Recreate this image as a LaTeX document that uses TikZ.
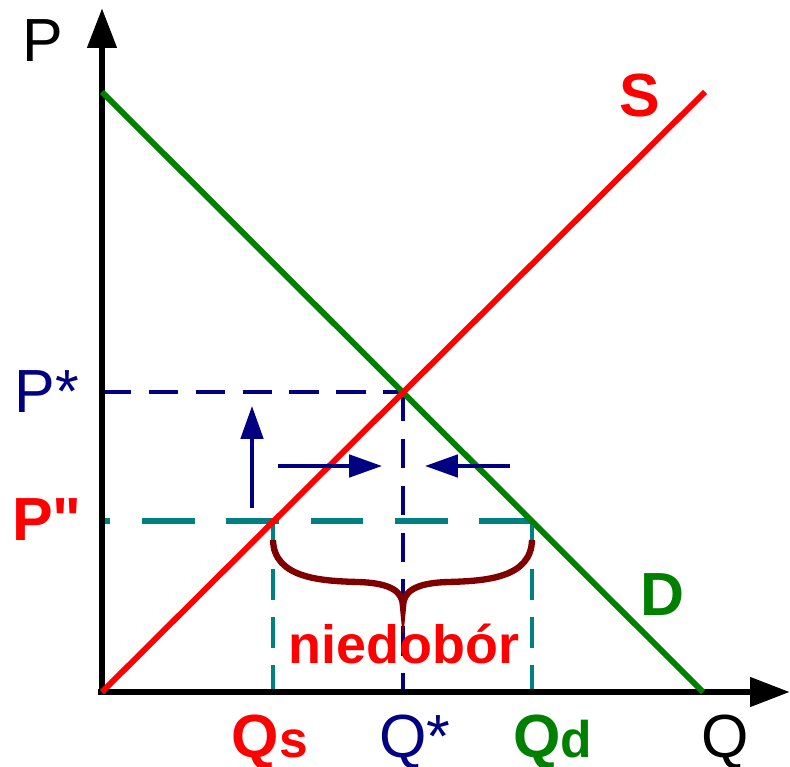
\documentclass[tikz,border=0pt]{standalone}
\usepackage{fontspec}
\setmainfont{Liberation Sans}
\usetikzlibrary{arrows.meta}

\definecolor{navy}{HTML}{000080}
\definecolor{tealc}{HTML}{008080}
\definecolor{darkgreen}{HTML}{008000}
\definecolor{maroon}{HTML}{800000}

\begin{document}
\begin{tikzpicture}[
  x=0.03cm, y=-0.03cm,
  axis/.style={draw, line width=5.8pt, -{Triangle[length=34pt, width=24pt]}},
  curve/.style={draw, line width=5pt},
  guide/.style={draw, navy, line width=3pt, dash pattern=on 25pt off 15pt},
  guidet/.style={draw, tealc, line width=2.6pt, dash pattern=on 26pt off 15pt},
  move/.style={draw, navy, line width=3.2pt, -{Triangle[length=28pt, width=19pt]}},
  lab/.style={anchor=base, inner sep=0pt, font=\fontsize{52}{60}\selectfont},
  blab/.style={lab, font=\fontsize{52}{60}\selectfont\bfseries}
]
\useasboundingbox (0,0) rectangle (790,767);

% punkty
\coordinate (O) at (102,692);
\coordinate (ytop) at (102,8);
\coordinate (xend) at (790,692);
\coordinate (Stop) at (705,92);
\coordinate (Dtop) at (102,92);
\coordinate (Dend) at (703,692);
\coordinate (E) at (403,392);
\coordinate (Pst) at (102,392);
\coordinate (Qst) at (403,692);
\coordinate (Pbis) at (102,521);
\coordinate (As) at (273,521);
\coordinate (Ad) at (532,521);
\coordinate (Qs) at (273,692);
\coordinate (Qd) at (532,692);

% linie pomocnicze
\path [guide] (Pst) -- (E);
\path [guide] (E) -- (Qst);
\path [guidet] (As) -- (Qs);
\path [guidet] (Ad) -- (Qd);
\path [draw, tealc, line width=5pt, dash pattern=on 45pt off 27pt] (Ad) -- (Pbis);

% osie
\path [axis] (O) -- (ytop);
\path [axis] ([xshift=-3pt]O) -- (xend);

% popyt i podaz
\path [curve, darkgreen] (Dtop) -- (Dend);
\path [curve, red] (O) -- (Stop);

% strzalki
\coordinate (up1) at (252,508);
\coordinate (up2) at (252,406);
\coordinate (r1) at (278,466);
\coordinate (r2) at (382,466);
\coordinate (l1) at (510,466);
\coordinate (l2) at (425,466);
\path [move] (up1) -- (up2);
\path [move] (r1) -- (r2);
\path [move] (l1) -- (l2);

% klamra
\coordinate (br) at (403,607);
\draw [maroon, line width=5.4pt]
  (273,540) .. controls (274,578) and (320,581) .. (358,582)
  .. controls (392,583) and (403,592) .. (br)
  .. controls (403,592) and (414,583) .. (448,582)
  .. controls (486,581) and (531,578) .. (532,540);

% etykiety
\node [lab] (lP) at (43,62) {P};
\node [lab, navy] (lPst) at (47,412) {P*};
\node [blab, red] (lPb) at (47,540) {P\textquotedbl};
\node [blab, red] (lS) at (640,117) {S};
\node [blab, darkgreen] (lD) at (662,615) {D};
\node [lab, font=\fontsize{46}{54}\selectfont\bfseries, red] (lnd) at (404,663) {niedobór};
\node [blab, red] (lQs) at (270,757) {Q{\fontsize{44}{50}\selectfont s}};
\node [lab, navy] (lQst) at (415,757) {Q*};
\node [blab, darkgreen] (lQd) at (553,757) {Q{\fontsize{44}{50}\selectfont d}};
\node [lab] (lQ) at (725,757) {Q};
\end{tikzpicture}
\end{document}
